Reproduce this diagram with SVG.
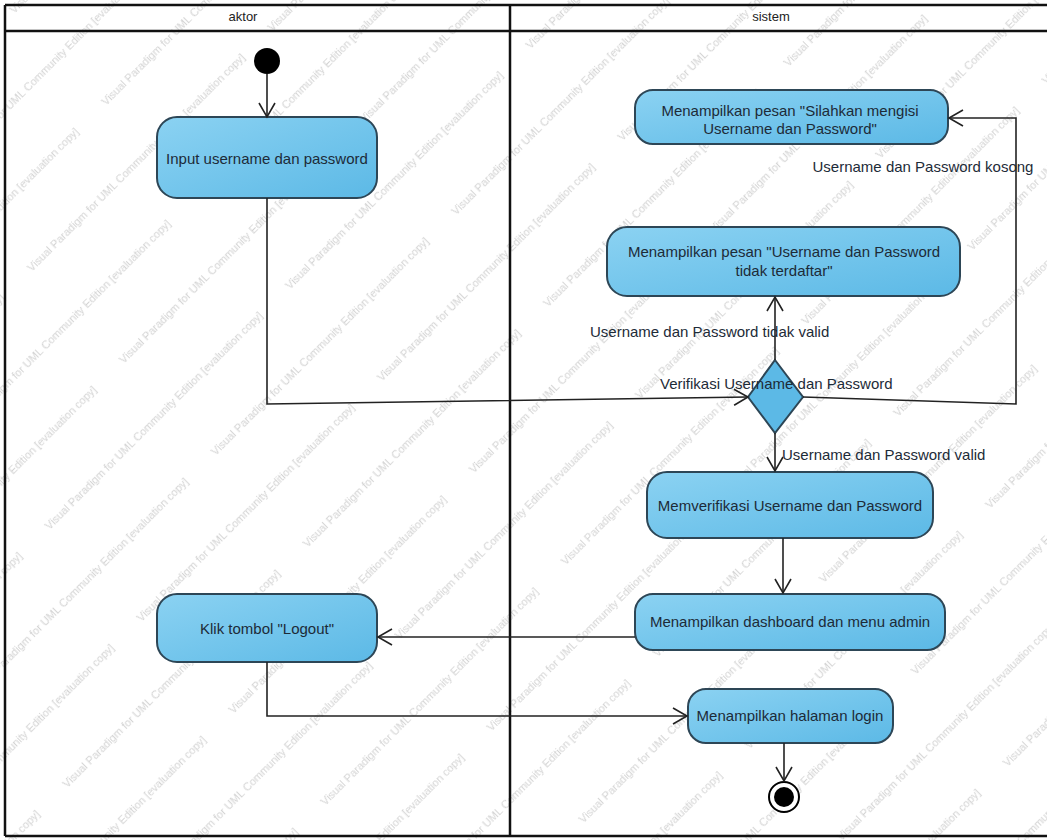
<svg xmlns="http://www.w3.org/2000/svg" width="1047" height="840" viewBox="0 0 1047 840">
  <style>
    .frame { fill: none; stroke: #111; stroke-width: 2.5; }
    .lane-title { font-family: "Liberation Sans", Arial, sans-serif; font-size: 13px; fill: #222; text-anchor: middle; }
    .action { fill: url(#actionFill); stroke: #2d4656; stroke-width: 2; }
    .label { font-family: "Liberation Sans", Arial, sans-serif; font-size: 15px; fill: #1d2b38; }
    .center { text-anchor: middle; }
    .edge { fill: none; stroke: #222; stroke-width: 1.6; }
    .wm { font-family: "Liberation Sans", Arial, sans-serif; font-size: 11px; fill: #d3d3d3; }
  </style>
  <defs>
    <linearGradient id="actionFill" x1="0" y1="0" x2="1" y2="1">
      <stop offset="0" stop-color="#8bd2f2"/>
      <stop offset="1" stop-color="#5cb9e6"/>
    </linearGradient>
    <marker id="open" markerUnits="userSpaceOnUse" markerWidth="18" markerHeight="20" refX="15" refY="9" orient="auto">
      <path d="M1,1 L15,9 L1,17" fill="none" stroke="#222" stroke-width="1.6"/>
    </marker>
    <pattern id="wm" patternUnits="userSpaceOnUse" width="340" height="130" patternTransform="rotate(-45)">
      <text class="wm" x="0" y="20">Visual Paradigm for UML Community Edition [evaluation copy]</text>
      <text class="wm" x="170" y="85">Visual Paradigm for UML Community Edition [evaluation copy]</text>
      <text class="wm" x="-170" y="85">Visual Paradigm for UML Community Edition [evaluation copy]</text>
    </pattern>
  </defs>

  <rect width="1047" height="840" fill="#ffffff"/>
  <!-- evaluation watermark tiled over the swimlanes -->
  <rect id="watermark" x="0" y="0" width="1047" height="840" fill="url(#wm)"/>

  <!-- swimlane frame -->
  <g id="swimlanes">
    <path class="frame" d="M5,5 H1047 M5,31 H1047 M5,5 V836 M510,5 V836 M5,836 H1047"/>
    <text class="lane-title" x="243" y="21">aktor</text>
    <text class="lane-title" x="771" y="21">sistem</text>
  </g>

  <g id="start">
    <circle cx="267" cy="61" r="13" fill="#000"/>
  </g>

  <g id="input-login">
    <rect class="action" x="157" y="117" width="220" height="81" rx="20"/>
    <text class="label center" x="267" y="164">Input username dan password</text>
  </g>

  <g id="msg-empty">
    <rect class="action" x="635" y="90" width="313" height="54" rx="18"/>
    <text class="label center" x="790" y="116">Menampilkan pesan "Silahkan mengisi</text>
    <text class="label center" x="790" y="134">Username dan Password"</text>
  </g>

  <g id="msg-unregistered">
    <rect class="action" x="607" y="227" width="353" height="69" rx="20"/>
    <text class="label center" x="784" y="257">Menampilkan pesan "Username dan Password</text>
    <text class="label center" x="784" y="276">tidak terdaftar"</text>
  </g>

  <g id="decision">
    <polygon points="775,360 803,397 775,433 748,397" fill="#5cb9e6" stroke="#2d4656" stroke-width="2"/>
  </g>

  <g id="verify">
    <rect class="action" x="647" y="472" width="286" height="66" rx="20"/>
    <text class="label center" x="790" y="511">Memverifikasi Username dan Password</text>
  </g>

  <g id="dashboard">
    <rect class="action" x="635" y="594" width="310" height="56" rx="18"/>
    <text class="label center" x="790" y="627">Menampilkan dashboard dan menu admin</text>
  </g>

  <g id="logout">
    <rect class="action" x="157" y="594" width="220" height="68" rx="20"/>
    <text class="label center" x="267" y="634">Klik tombol "Logout"</text>
  </g>

  <g id="login-page">
    <rect class="action" x="688" y="689" width="205" height="54" rx="18"/>
    <text class="label center" x="790" y="721">Menampilkan halaman login</text>
  </g>

  <g id="end">
    <circle cx="784" cy="797" r="15" fill="#fff" stroke="#000" stroke-width="2"/>
    <circle cx="784" cy="797" r="10" fill="#000"/>
  </g>

  <!-- control flows and guard labels, drawn above the nodes -->
  <g id="connectors">
    <path class="edge" d="M267,74 V117" marker-end="url(#open)"/>
    <path class="edge" d="M267,198 V404 L748,397" marker-end="url(#open)"/>
    <path class="edge" d="M775,360 V297" marker-end="url(#open)"/>
    <path class="edge" d="M803,397 L1016,404 V118 H949" marker-end="url(#open)"/>
    <path class="edge" d="M775,433 V471" marker-end="url(#open)"/>
    <path class="edge" d="M783,538 V593" marker-end="url(#open)"/>
    <path class="edge" d="M635,637 H378" marker-end="url(#open)"/>
    <path class="edge" d="M267,662 V716 H687" marker-end="url(#open)"/>
    <path class="edge" d="M784,743 V781" marker-end="url(#open)"/>
    <text class="label" x="923" y="172" text-anchor="middle">Username dan Password kosong</text>
    <text class="label" x="590" y="337">Username dan Password tidak valid</text>
    <text class="label" x="660" y="389">Verifikasi Username dan Password</text>
    <text class="label" x="782" y="460">Username dan Password valid</text>
  </g>
</svg>
